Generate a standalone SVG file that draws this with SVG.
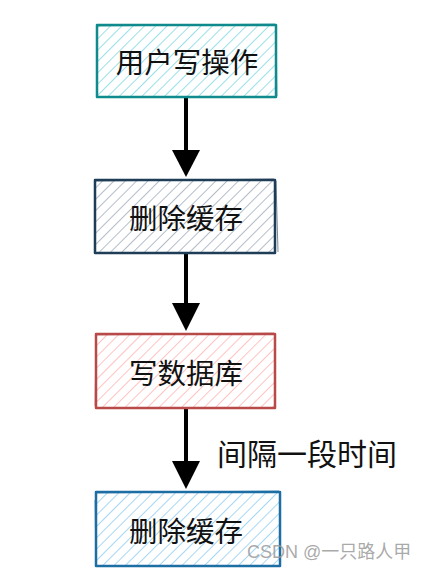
<svg xmlns="http://www.w3.org/2000/svg" width="431" height="571" viewBox="0 0 431 571">
<style>
.lbl{font-family:"Noto Sans CJK SC","Liberation Sans",sans-serif;font-size:28.5px;fill:#111;text-anchor:middle;dominant-baseline:central}
.box{stroke-width:2.5;stroke-linejoin:round}
.conn{stroke:#000;stroke-width:4;fill:none;stroke-linecap:round}
</style>
<defs>
<pattern id="h1" width="8" height="8" patternUnits="userSpaceOnUse" patternTransform="rotate(45)"><line x1="0" y1="0" x2="0" y2="8" stroke="#8fdde6" stroke-width="1.8"/></pattern>
<pattern id="h2" width="8" height="8" patternUnits="userSpaceOnUse" patternTransform="rotate(45)"><line x1="0" y1="0" x2="0" y2="8" stroke="#a9b6c3" stroke-width="1.8"/></pattern>
<pattern id="h3" width="8" height="8" patternUnits="userSpaceOnUse" patternTransform="rotate(45)"><line x1="0" y1="0" x2="0" y2="8" stroke="#ffbcbc" stroke-width="1.8"/></pattern>
<pattern id="h4" width="8" height="8" patternUnits="userSpaceOnUse" patternTransform="rotate(45)"><line x1="0" y1="0" x2="0" y2="8" stroke="#9dd3f2" stroke-width="1.8"/></pattern>
</defs>
<rect width="431" height="571" fill="#fff"/>
<g id="connectors">
<line class="conn" x1="186" y1="98" x2="186" y2="160"/>
<path d="M172,150 L200,150 L186,177 Z" fill="#000"/>
<line class="conn" x1="186" y1="254" x2="186" y2="313"/>
<path d="M172,303 L200,303 L186,331 Z" fill="#000"/>
<line class="conn" x1="186" y1="409" x2="186" y2="470"/>
<path d="M172,461 L200,461 L186,489 Z" fill="#000"/>
</g>
<g id="n1">
<rect x="97" y="25" width="179" height="72" fill="url(#h1)" stroke="#0f8b8d" class="box"/>
<path d="M98,26 L275,24 M276,26 L277,96" stroke="#0f8b8d" stroke-width="1" fill="none" opacity="0.6"/>
<text class="lbl" x="187" y="60">用户写操作</text>
</g>
<g id="n2">
<rect x="95" y="180" width="180" height="73" fill="url(#h2)" stroke="#1f3d57" class="box"/>
<path d="M96,181 L274,179 M276,181 L278,252" stroke="#1f3d57" stroke-width="1" fill="none" opacity="0.6"/>
<text class="lbl" x="186" y="216">删除缓存</text>
</g>
<g id="n3">
<rect x="96" y="334" width="179" height="74" fill="url(#h3)" stroke="#b84a4a" class="box"/>
<path d="M97,335 L274,333 M96,340 L95,406" stroke="#b84a4a" stroke-width="1" fill="none" opacity="0.6"/>
<text class="lbl" x="186" y="371">写数据库</text>
</g>
<text x="217" y="452" font-family="'Noto Sans CJK SC','Liberation Sans',sans-serif" font-size="30" fill="#111" dominant-baseline="central">间隔一段时间</text>
<g id="n4">
<rect x="96" y="492" width="184" height="74" fill="url(#h4)" stroke="#1c6ea4" class="box"/>
<path d="M97,493 L279,491 M95,500 L96,565" stroke="#1c6ea4" stroke-width="1" fill="none" opacity="0.6"/>
<text class="lbl" x="186" y="529">删除缓存</text>
</g>
<text x="247" y="558" font-family="'Liberation Sans','Noto Sans CJK SC',sans-serif" font-size="18" fill="#9a9a9a" fill-opacity="0.85">CSDN @一只路人甲</text>
</svg>
